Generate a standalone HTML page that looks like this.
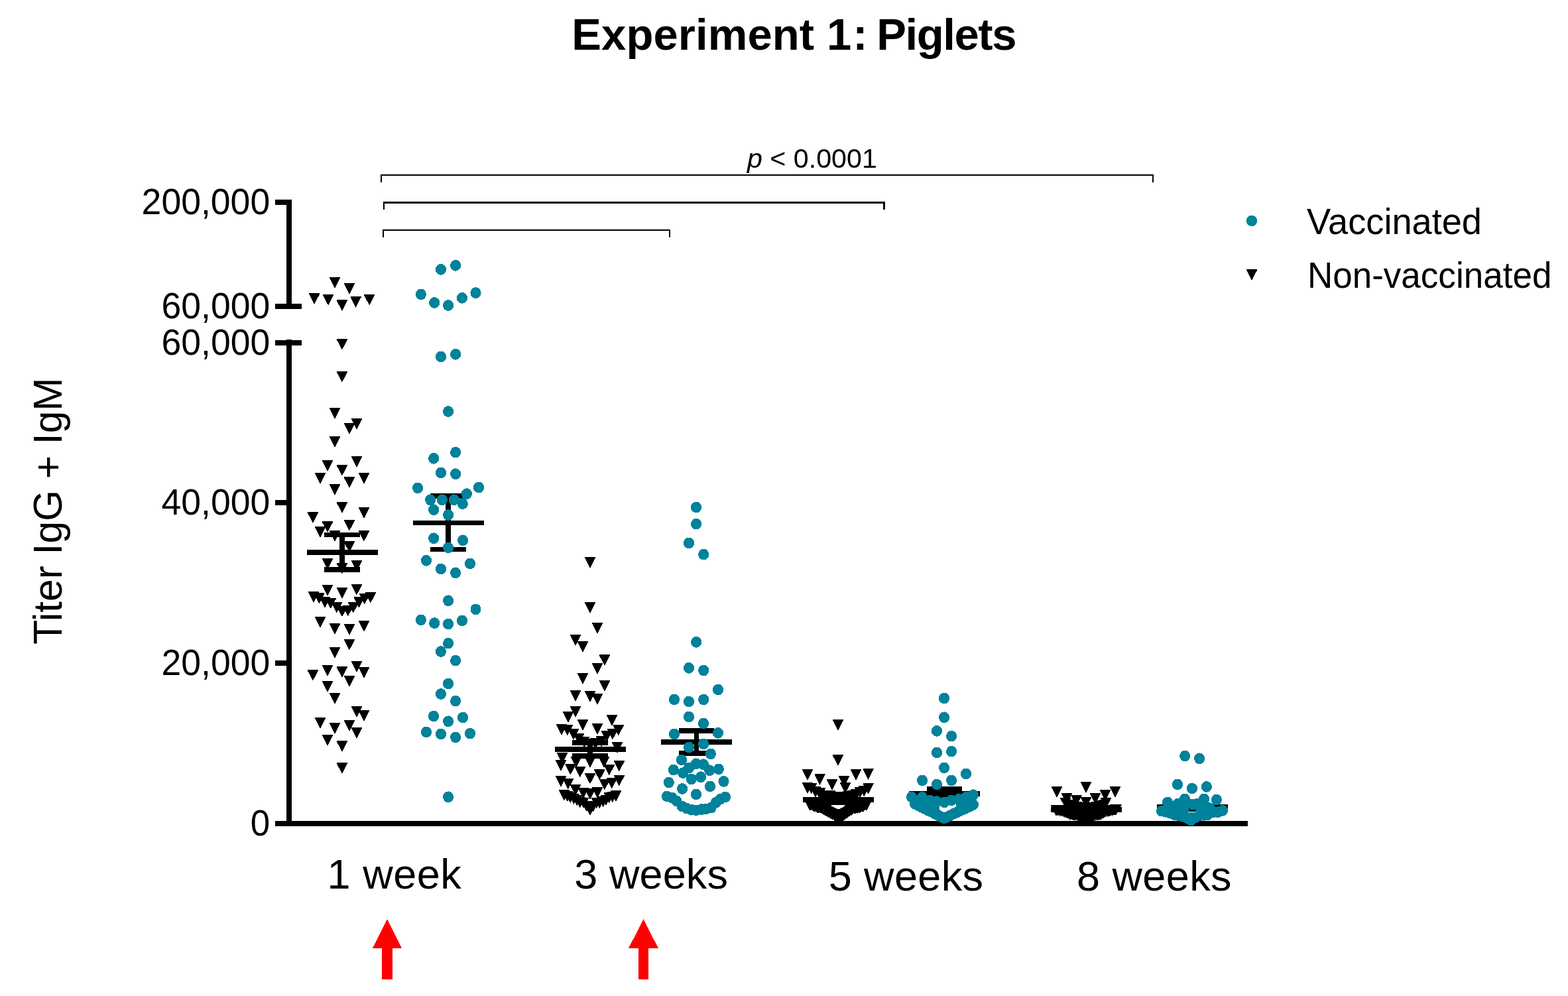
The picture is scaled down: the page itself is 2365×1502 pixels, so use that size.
<!DOCTYPE html>
<html lang="en"><head><meta charset="utf-8"><title>Experiment 1: Piglets</title>
<style>
html,body{margin:0;padding:0;background:#fff}
body{width:2365px;height:1502px;overflow:hidden}
svg{display:block}
text{font-family:"Liberation Sans",Arial,Helvetica,sans-serif;fill:#000}
.ax{fill:#000;shape-rendering:crispEdges}
.tri{fill:#000;shape-rendering:crispEdges}
.dot{fill:#00829b;shape-rendering:crispEdges}
.arrow{fill:#ff0000;shape-rendering:crispEdges}
.tick{font-size:55px;text-anchor:end}
.xl{font-size:63px}
.lg{font-size:55px}
</style></head><body>
<svg width="2365" height="1502" viewBox="0 0 2365 1502">
<rect width="2365" height="1502" fill="#fff"/>
<text id="title" y="75.4" font-size="67" font-weight="700"><tspan x="862.3" letter-spacing="0.10">Experiment </tspan><tspan x="1247.0" letter-spacing="2.00">1: </tspan><tspan x="1322.2" letter-spacing="-1.40">Piglets</tspan></text>
<text id="pval" x="1224.9" y="252.8" text-anchor="middle" font-size="41.2"><tspan font-style="italic">p</tspan> &lt; 0.0001</text>
<g class="ax" id="brackets">
<path d="M574 263H1740V275H1738V265H576V275H574Z"/>
<path d="M578 304H1335V316H1332V307H580V316H578Z"/>
<path d="M577 346H1011V358H1009V348H579V358H577Z"/>
</g>
<g class="ax" id="axes">
<rect x="432" y="301" width="8" height="165"/>
<rect x="415" y="301" width="25" height="8"/>
<rect x="415" y="458" width="40" height="8"/>
<rect x="432" y="512" width="8" height="734"/>
<rect x="415" y="513" width="40" height="8"/>
<rect x="415" y="754" width="20" height="8"/>
<rect x="415" y="996" width="20" height="8"/>
<rect x="415" y="1238" width="1467" height="8"/>
</g>
<text class="tick" x="407.2" y="322.7" textLength="193.6" lengthAdjust="spacingAndGlyphs">200,000</text>
<text class="tick" x="407.2" y="480.3" textLength="163.6" lengthAdjust="spacingAndGlyphs">60,000</text>
<text class="tick" x="407.2" y="535.4" textLength="163.6" lengthAdjust="spacingAndGlyphs">60,000</text>
<text class="tick" x="407.2" y="776.4" textLength="163.6" lengthAdjust="spacingAndGlyphs">40,000</text>
<text class="tick" x="407.2" y="1018.4" textLength="163.6" lengthAdjust="spacingAndGlyphs">20,000</text>
<text class="tick" x="407.2" y="1260.4" textLength="29.4" lengthAdjust="spacingAndGlyphs">0</text>
<text id="ylab" transform="translate(92.8 770.6) rotate(-90)" text-anchor="middle" font-size="61.2" textLength="402.3" lengthAdjust="spacingAndGlyphs">Titer IgG + IgM</text>
<ellipse class="dot" cx="1888" cy="333" rx="8.05" ry="8.4"/>
<polygon class="tri" points="1880,406.2 1896.1,406.2 1896.1,407.4 1888.05,422.8 1880,407.4"/>
<text class="lg" x="1971.0" y="353.1" textLength="264.0" lengthAdjust="spacingAndGlyphs">Vaccinated</text>
<text class="lg" x="1971.9" y="433.8" textLength="368.5" lengthAdjust="spacingAndGlyphs">Non-vaccinated</text>
<text class="xl" x="493.6" y="1339.6" letter-spacing="0.50">1 week</text>
<text class="xl" x="866.2" y="1340.2" letter-spacing="0.10">3 weeks</text>
<text class="xl" x="1249.8" y="1343.4" letter-spacing="0.35">5 weeks</text>
<text class="xl" x="1624.1" y="1343.4" letter-spacing="0.40">8 weeks</text>
<polygon class="arrow" points="584.0,1386 606.4,1430.3 592.1,1430.3 592.1,1476.7 575.9,1476.7 575.9,1430.3 561.6,1430.3"/>
<polygon class="arrow" points="970.5,1386 993.0,1430.3 978.0,1430.3 978.0,1476.7 963.2,1476.7 963.2,1430.3 948.0,1430.3"/>
<g class="ax" id="errorbars">
<rect x="462.8" y="829.1" width="107" height="7.8"/>
<rect x="489.4" y="802.5" width="53.8" height="7.8"/>
<rect x="489.4" y="854.7" width="53.8" height="7.8"/>
<rect x="512.4" y="806.4" width="7.7" height="52.2"/>
<rect x="622.8" y="784.6" width="107" height="7.8"/>
<rect x="649.4" y="744.1" width="53.8" height="7.8"/>
<rect x="649.4" y="824.6" width="53.8" height="7.8"/>
<rect x="672.4" y="748.0" width="7.7" height="80.5"/>
<rect x="836.8" y="1126.1" width="107" height="7.8"/>
<rect x="863.4" y="1116.1" width="53.8" height="7.8"/>
<rect x="863.4" y="1136.1" width="53.8" height="7.8"/>
<rect x="886.4" y="1120.0" width="7.7" height="20.0"/>
<rect x="996.9" y="1115.1" width="107" height="7.8"/>
<rect x="1023.5" y="1098.1" width="53.8" height="7.8"/>
<rect x="1023.5" y="1132.3" width="53.8" height="7.8"/>
<rect x="1046.6" y="1102.0" width="7.7" height="34.2"/>
<rect x="1211.0" y="1202.1" width="107" height="7.8"/>
<rect x="1237.6" y="1197.1" width="53.8" height="7.8"/>
<rect x="1237.6" y="1206.6" width="53.8" height="7.8"/>
<rect x="1260.7" y="1201.0" width="7.7" height="9.5"/>
<rect x="1371.0" y="1193.0" width="107" height="7.8"/>
<rect x="1397.6" y="1186.1" width="53.8" height="7.8"/>
<rect x="1397.6" y="1200.1" width="53.8" height="7.8"/>
<rect x="1420.7" y="1190.0" width="7.7" height="14.0"/>
<rect x="1585.0" y="1217.1" width="107" height="7.8"/>
<rect x="1611.6" y="1214.1" width="53.8" height="7.8"/>
<rect x="1611.6" y="1220.1" width="53.8" height="7.8"/>
<rect x="1634.7" y="1218.0" width="7.7" height="6.0"/>
<rect x="1745.0" y="1213.1" width="107" height="7.8"/>
<rect x="1771.6" y="1210.1" width="53.8" height="7.8"/>
<rect x="1771.6" y="1215.9" width="53.8" height="7.8"/>
<rect x="1794.7" y="1214.0" width="7.7" height="5.8"/>
</g>
<g class="tri" id="nv1">
<polygon points="496.9,418.1 513.0,418.1 513.0,419.3 505.0,434.7 496.9,419.3"/>
<polygon points="518.9,427.1 534.9,427.1 534.9,428.3 526.9,443.7 518.9,428.3"/>
<polygon points="466.1,442.1 482.2,442.1 482.2,443.3 474.1,458.7 466.1,443.3"/>
<polygon points="487.1,444.0 503.2,444.0 503.2,445.2 495.1,460.6 487.1,445.2"/>
<polygon points="507.8,452.2 523.9,452.2 523.9,453.4 515.9,468.8 507.8,453.4"/>
<polygon points="528.6,447.2 544.6,447.2 544.6,448.4 536.6,463.8 528.6,448.4"/>
<polygon points="549.2,444.0 565.2,444.0 565.2,445.2 557.2,460.6 549.2,445.2"/>
<polygon points="507.8,511.0 523.9,511.0 523.9,512.2 515.9,527.6 507.8,512.2"/>
<polygon points="507.8,560.0 523.9,560.0 523.9,561.2 515.9,576.6 507.8,561.2"/>
<polygon points="496.9,615.1 513.0,615.1 513.0,616.3 505.0,631.7 496.9,616.3"/>
<polygon points="530.0,630.9 546.0,630.9 546.0,632.1 538.0,647.5 530.0,632.1"/>
<polygon points="518.9,638.1 534.9,638.1 534.9,639.3 526.9,654.7 518.9,639.3"/>
<polygon points="496.9,658.1 513.0,658.1 513.0,659.3 505.0,674.7 496.9,659.3"/>
<polygon points="530.0,687.9 546.0,687.9 546.0,689.1 538.0,704.5 530.0,689.1"/>
<polygon points="485.9,694.1 502.1,694.1 502.1,695.3 494.0,710.7 485.9,695.3"/>
<polygon points="507.8,701.0 523.9,701.0 523.9,702.2 515.9,717.6 507.8,702.2"/>
<polygon points="474.9,713.1 491.1,713.1 491.1,714.3 483.0,729.7 474.9,714.3"/>
<polygon points="540.9,713.1 556.9,713.1 556.9,714.3 548.9,729.7 540.9,714.3"/>
<polygon points="518.9,719.2 534.9,719.2 534.9,720.4 526.9,735.8 518.9,720.4"/>
<polygon points="496.9,730.0 513.0,730.0 513.0,731.2 505.0,746.6 496.9,731.2"/>
<polygon points="507.8,757.1 523.9,757.1 523.9,758.3 515.9,773.7 507.8,758.3"/>
<polygon points="540.9,765.1 556.9,765.1 556.9,766.3 548.9,781.7 540.9,766.3"/>
<polygon points="463.8,772.1 479.9,772.1 479.9,773.3 471.9,788.7 463.8,773.3"/>
<polygon points="485.9,786.2 502.1,786.2 502.1,787.4 494.0,802.8 485.9,787.4"/>
<polygon points="518.9,784.0 534.9,784.0 534.9,785.2 526.9,800.6 518.9,785.2"/>
<polygon points="474.9,794.0 491.1,794.0 491.1,795.2 483.0,810.6 474.9,795.2"/>
<polygon points="540.9,800.0 556.9,800.0 556.9,801.2 548.9,816.6 540.9,801.2"/>
<polygon points="496.9,800.0 513.0,800.0 513.0,801.2 505.0,816.6 496.9,801.2"/>
<polygon points="518.9,816.4 534.9,816.4 534.9,817.6 526.9,833.0 518.9,817.6"/>
<polygon points="485.9,842.1 502.1,842.1 502.1,843.3 494.0,858.7 485.9,843.3"/>
<polygon points="530.0,845.0 546.0,845.0 546.0,846.2 538.0,861.6 530.0,846.2"/>
<polygon points="507.8,849.0 523.9,849.0 523.9,850.2 515.9,865.6 507.8,850.2"/>
<polygon points="485.9,882.0 502.1,882.0 502.1,883.2 494.0,898.6 485.9,883.2"/>
<polygon points="529.9,881.0 545.9,881.0 545.9,882.2 537.9,897.6 529.9,882.2"/>
<polygon points="507.9,886.0 524.0,886.0 524.0,887.2 516.0,902.6 507.9,887.2"/>
<polygon points="464.9,892.0 481.1,892.0 481.1,893.2 473.0,908.6 464.9,893.2"/>
<polygon points="473.3,894.0 489.4,894.0 489.4,895.2 481.4,910.6 473.3,895.2"/>
<polygon points="481.9,899.9 498.1,899.9 498.1,901.1 490.0,916.5 481.9,901.1"/>
<polygon points="490.8,901.6 506.9,901.6 506.9,902.8 498.9,918.2 490.8,902.8"/>
<polygon points="499.7,907.9 515.8,907.9 515.8,909.1 507.8,924.5 499.7,909.1"/>
<polygon points="507.9,913.8 524.0,913.8 524.0,915.0 516.0,930.4 507.9,915.0"/>
<polygon points="516.9,912.9 532.9,912.9 532.9,914.1 524.9,929.5 516.9,914.1"/>
<polygon points="524.9,907.9 540.9,907.9 540.9,909.1 532.9,924.5 524.9,909.1"/>
<polygon points="533.5,899.9 549.5,899.9 549.5,901.1 541.5,916.5 533.5,901.1"/>
<polygon points="541.9,894.9 557.9,894.9 557.9,896.1 549.9,911.5 541.9,896.1"/>
<polygon points="550.9,893.0 566.9,893.0 566.9,894.2 558.9,909.6 550.9,894.2"/>
<polygon points="474.9,930.0 491.1,930.0 491.1,931.2 483.0,946.6 474.9,931.2"/>
<polygon points="541.1,936.0 557.1,936.0 557.1,937.2 549.1,952.6 541.1,937.2"/>
<polygon points="497.1,940.2 513.1,940.2 513.1,941.4 505.1,956.8 497.1,941.4"/>
<polygon points="519.0,941.1 535.0,941.1 535.0,942.3 527.0,957.7 519.0,942.3"/>
<polygon points="518.9,964.0 534.9,964.0 534.9,965.2 526.9,980.6 518.9,965.2"/>
<polygon points="496.9,976.1 513.0,976.1 513.0,977.3 505.0,992.7 496.9,977.3"/>
<polygon points="530.0,997.0 546.0,997.0 546.0,998.2 538.0,1013.6 530.0,998.2"/>
<polygon points="485.9,1003.1 502.1,1003.1 502.1,1004.3 494.0,1019.7 485.9,1004.3"/>
<polygon points="507.8,1005.2 523.9,1005.2 523.9,1006.4 515.9,1021.8 507.8,1006.4"/>
<polygon points="540.9,1006.1 556.9,1006.1 556.9,1007.3 548.9,1022.7 540.9,1007.3"/>
<polygon points="463.8,1010.0 479.9,1010.0 479.9,1011.2 471.9,1026.6 463.8,1011.2"/>
<polygon points="518.9,1019.1 534.9,1019.1 534.9,1020.3 526.9,1035.7 518.9,1020.3"/>
<polygon points="485.9,1027.1 502.1,1027.1 502.1,1028.3 494.0,1043.7 485.9,1028.3"/>
<polygon points="496.9,1045.1 513.0,1045.1 513.0,1046.3 505.0,1061.7 496.9,1046.3"/>
<polygon points="530.0,1065.1 546.0,1065.1 546.0,1066.3 538.0,1081.7 530.0,1066.3"/>
<polygon points="540.9,1071.1 556.9,1071.1 556.9,1072.3 548.9,1087.7 540.9,1072.3"/>
<polygon points="474.9,1082.0 491.1,1082.0 491.1,1083.2 483.0,1098.6 474.9,1083.2"/>
<polygon points="518.9,1086.1 534.9,1086.1 534.9,1087.3 526.9,1102.7 518.9,1087.3"/>
<polygon points="496.9,1090.0 513.0,1090.0 513.0,1091.2 505.0,1106.6 496.9,1091.2"/>
<polygon points="530.0,1096.9 546.0,1096.9 546.0,1098.1 538.0,1113.5 530.0,1098.1"/>
<polygon points="485.9,1108.0 502.1,1108.0 502.1,1109.2 494.0,1124.6 485.9,1109.2"/>
<polygon points="507.8,1117.1 523.9,1117.1 523.9,1118.3 515.9,1133.7 507.8,1118.3"/>
<polygon points="507.8,1150.2 523.9,1150.2 523.9,1151.4 515.9,1166.8 507.8,1151.4"/>
</g>
<g class="dot" id="v1">
<ellipse cx="665.0" cy="406.4" rx="8.05" ry="8.4"/>
<ellipse cx="687.1" cy="400.3" rx="8.05" ry="8.4"/>
<ellipse cx="634.9" cy="443.9" rx="8.05" ry="8.4"/>
<ellipse cx="655.2" cy="456.5" rx="8.05" ry="8.4"/>
<ellipse cx="676.1" cy="460.5" rx="8.05" ry="8.4"/>
<ellipse cx="697.0" cy="449.4" rx="8.05" ry="8.4"/>
<ellipse cx="717.5" cy="441.6" rx="8.05" ry="8.4"/>
<ellipse cx="665.0" cy="537.9" rx="8.05" ry="8.4"/>
<ellipse cx="687.1" cy="534.3" rx="8.05" ry="8.4"/>
<ellipse cx="676.1" cy="620.5" rx="8.05" ry="8.4"/>
<ellipse cx="687.1" cy="682.1" rx="8.05" ry="8.4"/>
<ellipse cx="654.1" cy="691.3" rx="8.05" ry="8.4"/>
<ellipse cx="665.0" cy="712.9" rx="8.05" ry="8.4"/>
<ellipse cx="687.1" cy="714.7" rx="8.05" ry="8.4"/>
<ellipse cx="630.1" cy="735.9" rx="8.05" ry="8.4"/>
<ellipse cx="722.1" cy="735.0" rx="8.05" ry="8.4"/>
<ellipse cx="703.9" cy="744.7" rx="8.05" ry="8.4"/>
<ellipse cx="649.1" cy="753.8" rx="8.05" ry="8.4"/>
<ellipse cx="666.9" cy="753.8" rx="8.05" ry="8.4"/>
<ellipse cx="684.9" cy="753.8" rx="8.05" ry="8.4"/>
<ellipse cx="697.8" cy="759.6" rx="8.05" ry="8.4"/>
<ellipse cx="654.1" cy="768.7" rx="8.05" ry="8.4"/>
<ellipse cx="676.1" cy="776.5" rx="8.05" ry="8.4"/>
<ellipse cx="654.1" cy="811.7" rx="8.05" ry="8.4"/>
<ellipse cx="698.1" cy="814.8" rx="8.05" ry="8.4"/>
<ellipse cx="676.1" cy="825.9" rx="8.05" ry="8.4"/>
<ellipse cx="643.0" cy="845.3" rx="8.05" ry="8.4"/>
<ellipse cx="709.0" cy="849.9" rx="8.05" ry="8.4"/>
<ellipse cx="665.0" cy="858.0" rx="8.05" ry="8.4"/>
<ellipse cx="687.1" cy="863.8" rx="8.05" ry="8.4"/>
<ellipse cx="676.1" cy="905.8" rx="8.05" ry="8.4"/>
<ellipse cx="717.5" cy="918.9" rx="8.05" ry="8.4"/>
<ellipse cx="634.9" cy="934.9" rx="8.05" ry="8.4"/>
<ellipse cx="697.0" cy="935.9" rx="8.05" ry="8.4"/>
<ellipse cx="655.2" cy="939.6" rx="8.05" ry="8.4"/>
<ellipse cx="676.1" cy="941.0" rx="8.05" ry="8.4"/>
<ellipse cx="676.1" cy="970.1" rx="8.05" ry="8.4"/>
<ellipse cx="665.0" cy="982.5" rx="8.05" ry="8.4"/>
<ellipse cx="687.1" cy="996.1" rx="8.05" ry="8.4"/>
<ellipse cx="676.1" cy="1031.0" rx="8.05" ry="8.4"/>
<ellipse cx="665.0" cy="1046.5" rx="8.05" ry="8.4"/>
<ellipse cx="687.1" cy="1057.1" rx="8.05" ry="8.4"/>
<ellipse cx="654.1" cy="1080.0" rx="8.05" ry="8.4"/>
<ellipse cx="698.1" cy="1082.0" rx="8.05" ry="8.4"/>
<ellipse cx="676.1" cy="1087.8" rx="8.05" ry="8.4"/>
<ellipse cx="643.0" cy="1104.0" rx="8.05" ry="8.4"/>
<ellipse cx="709.0" cy="1106.1" rx="8.05" ry="8.4"/>
<ellipse cx="665.0" cy="1107.0" rx="8.05" ry="8.4"/>
<ellipse cx="687.1" cy="1111.9" rx="8.05" ry="8.4"/>
<ellipse cx="676.1" cy="1201.8" rx="8.05" ry="8.4"/>
</g>
<g class="tri" id="nv3">
<polygon points="882.0,840.2 898.0,840.2 898.0,841.4 890.0,856.8 882.0,841.4"/>
<polygon points="882.0,908.1 898.0,908.1 898.0,909.3 890.0,924.7 882.0,909.3"/>
<polygon points="892.9,939.1 908.9,939.1 908.9,940.3 900.9,955.7 892.9,940.3"/>
<polygon points="859.9,957.1 875.9,957.1 875.9,958.3 867.9,973.7 859.9,958.3"/>
<polygon points="871.0,967.1 887.0,967.1 887.0,968.3 879.0,983.7 871.0,968.3"/>
<polygon points="903.9,987.2 919.9,987.2 919.9,988.4 911.9,1003.8 903.9,988.4"/>
<polygon points="892.9,1000.1 908.9,1000.1 908.9,1001.3 900.9,1016.7 892.9,1001.3"/>
<polygon points="871.0,1015.2 887.0,1015.2 887.0,1016.4 879.0,1031.8 871.0,1016.4"/>
<polygon points="903.9,1026.1 919.9,1026.1 919.9,1027.3 911.9,1042.7 903.9,1027.3"/>
<polygon points="859.9,1041.1 875.9,1041.1 875.9,1042.3 867.9,1057.7 859.9,1042.3"/>
<polygon points="882.0,1042.1 898.0,1042.1 898.0,1043.3 890.0,1058.7 882.0,1043.3"/>
<polygon points="892.9,1046.2 908.9,1046.2 908.9,1047.4 900.9,1062.8 892.9,1047.4"/>
<polygon points="859.9,1065.1 875.9,1065.1 875.9,1066.3 867.9,1081.7 859.9,1066.3"/>
<polygon points="849.0,1073.1 865.0,1073.1 865.0,1074.3 857.0,1089.7 849.0,1074.3"/>
<polygon points="915.0,1078.0 931.0,1078.0 931.0,1079.2 923.0,1094.6 915.0,1079.2"/>
<polygon points="871.0,1085.0 887.0,1085.0 887.0,1086.2 879.0,1101.6 871.0,1086.2"/>
<polygon points="893.0,1091.1 909.0,1091.1 909.0,1092.3 901.0,1107.7 893.0,1092.3"/>
<polygon points="839.0,1092.0 855.0,1092.0 855.0,1093.2 847.0,1108.6 839.0,1093.2"/>
<polygon points="847.9,1092.9 863.9,1092.9 863.9,1094.1 855.9,1109.5 847.9,1094.1"/>
<polygon points="924.7,1093.0 940.8,1093.0 940.8,1094.2 932.7,1109.6 924.7,1094.2"/>
<polygon points="857.0,1099.0 873.0,1099.0 873.0,1100.2 865.0,1115.6 857.0,1100.2"/>
<polygon points="915.9,1099.0 931.9,1099.0 931.9,1100.2 923.9,1115.6 915.9,1100.2"/>
<polygon points="907.2,1102.1 923.2,1102.1 923.2,1103.3 915.2,1118.7 907.2,1103.3"/>
<polygon points="865.1,1106.0 881.1,1106.0 881.1,1107.1 873.1,1122.5 865.1,1107.1"/>
<polygon points="899.1,1110.0 915.1,1110.0 915.1,1111.2 907.1,1126.6 899.1,1111.2"/>
<polygon points="873.2,1110.9 889.2,1110.9 889.2,1112.1 881.2,1127.5 873.2,1112.1"/>
<polygon points="890.0,1113.0 906.0,1113.0 906.0,1114.1 898.0,1129.5 890.0,1114.1"/>
<polygon points="882.0,1114.0 898.0,1114.0 898.0,1115.2 890.0,1130.6 882.0,1115.2"/>
<polygon points="923.0,1119.0 939.0,1119.0 939.0,1120.2 931.0,1135.6 923.0,1120.2"/>
<polygon points="840.0,1135.1 856.0,1135.1 856.0,1136.3 848.0,1151.7 840.0,1136.3"/>
<polygon points="861.1,1141.0 877.1,1141.0 877.1,1142.2 869.1,1157.6 861.1,1142.2"/>
<polygon points="882.0,1141.0 898.0,1141.0 898.0,1142.2 890.0,1157.6 882.0,1142.2"/>
<polygon points="903.0,1141.0 919.0,1141.0 919.0,1142.2 911.0,1157.6 903.0,1142.2"/>
<polygon points="838.0,1146.0 854.0,1146.0 854.0,1147.2 846.0,1162.6 838.0,1147.2"/>
<polygon points="925.8,1147.0 941.8,1147.0 941.8,1148.1 933.8,1163.5 925.8,1148.1"/>
<polygon points="852.4,1152.0 868.4,1152.0 868.4,1153.2 860.4,1168.6 852.4,1153.2"/>
<polygon points="910.8,1153.0 926.8,1153.0 926.8,1154.2 918.8,1169.6 910.8,1154.2"/>
<polygon points="866.9,1155.9 882.9,1155.9 882.9,1157.1 874.9,1172.5 866.9,1157.1"/>
<polygon points="896.2,1160.1 912.3,1160.1 912.3,1161.3 904.3,1176.7 896.2,1161.3"/>
<polygon points="882.0,1165.8 898.0,1165.8 898.0,1167.0 890.0,1182.4 882.0,1167.0"/>
<polygon points="838.0,1170.0 854.0,1170.0 854.0,1171.2 846.0,1186.6 838.0,1171.2"/>
<polygon points="925.8,1168.9 941.8,1168.9 941.8,1170.1 933.8,1185.5 925.8,1170.1"/>
<polygon points="914.8,1172.9 930.8,1172.9 930.8,1174.1 922.8,1189.5 914.8,1174.1"/>
<polygon points="848.9,1173.9 864.9,1173.9 864.9,1175.1 856.9,1190.5 848.9,1175.1"/>
<polygon points="903.9,1174.8 919.9,1174.8 919.9,1176.0 911.9,1191.4 903.9,1176.0"/>
<polygon points="860.0,1182.9 876.1,1182.9 876.1,1184.1 868.0,1199.5 860.0,1184.1"/>
<polygon points="893.0,1187.0 909.0,1187.0 909.0,1188.2 901.0,1203.6 893.0,1188.2"/>
<polygon points="871.7,1187.7 887.8,1187.7 887.8,1188.9 879.7,1204.3 871.7,1188.9"/>
<polygon points="882.0,1189.0 898.0,1189.0 898.0,1190.2 890.0,1205.6 882.0,1190.2"/>
<polygon points="842.9,1190.8 858.9,1190.8 858.9,1192.0 850.9,1207.4 842.9,1192.0"/>
<polygon points="847.9,1192.6 863.9,1192.6 863.9,1193.8 855.9,1209.2 847.9,1193.8"/>
<polygon points="852.4,1194.6 868.4,1194.6 868.4,1195.8 860.4,1211.2 852.4,1195.8"/>
<polygon points="857.5,1196.6 873.5,1196.6 873.5,1197.8 865.5,1213.2 857.5,1197.8"/>
<polygon points="862.2,1198.6 878.3,1198.6 878.3,1199.8 870.3,1215.2 862.2,1199.8"/>
<polygon points="866.9,1201.7 882.9,1201.7 882.9,1202.9 874.9,1218.3 866.9,1202.9"/>
<polygon points="872.0,1202.7 888.0,1202.7 888.0,1203.9 880.0,1219.3 872.0,1203.9"/>
<polygon points="882.0,1212.9 898.0,1212.9 898.0,1214.0 890.0,1229.5 882.0,1214.0"/>
<polygon points="877.0,1207.8 893.0,1207.8 893.0,1209.0 885.0,1224.4 877.0,1209.0"/>
<polygon points="886.9,1207.8 902.9,1207.8 902.9,1209.0 894.9,1224.4 886.9,1209.0"/>
<polygon points="891.8,1202.7 907.8,1202.7 907.8,1203.9 899.8,1219.3 891.8,1203.9"/>
<polygon points="896.2,1202.7 912.3,1202.7 912.3,1203.9 904.3,1219.3 896.2,1203.9"/>
<polygon points="901.9,1200.7 917.9,1200.7 917.9,1201.9 909.9,1217.3 901.9,1201.9"/>
<polygon points="906.0,1198.6 922.0,1198.6 922.0,1199.8 914.0,1215.2 906.0,1199.8"/>
<polygon points="910.8,1194.6 926.8,1194.6 926.8,1195.8 918.8,1211.2 910.8,1195.8"/>
<polygon points="915.9,1193.8 931.9,1193.8 931.9,1195.0 923.9,1210.4 915.9,1195.0"/>
<polygon points="920.9,1192.2 936.9,1192.2 936.9,1193.3 928.9,1208.8 920.9,1193.3"/>
</g>
<g class="dot" id="v3">
<ellipse cx="1050.1" cy="765.0" rx="8.05" ry="8.4"/>
<ellipse cx="1050.1" cy="790.1" rx="8.05" ry="8.4"/>
<ellipse cx="1039.0" cy="818.9" rx="8.05" ry="8.4"/>
<ellipse cx="1061.2" cy="836.1" rx="8.05" ry="8.4"/>
<ellipse cx="1050.1" cy="968.3" rx="8.05" ry="8.4"/>
<ellipse cx="1039.0" cy="1007.3" rx="8.05" ry="8.4"/>
<ellipse cx="1061.2" cy="1010.9" rx="8.05" ry="8.4"/>
<ellipse cx="1083.1" cy="1040.0" rx="8.05" ry="8.4"/>
<ellipse cx="1017.0" cy="1054.9" rx="8.05" ry="8.4"/>
<ellipse cx="1039.0" cy="1058.0" rx="8.05" ry="8.4"/>
<ellipse cx="1061.2" cy="1054.9" rx="8.05" ry="8.4"/>
<ellipse cx="1039.0" cy="1081.0" rx="8.05" ry="8.4"/>
<ellipse cx="1061.0" cy="1090.9" rx="8.05" ry="8.4"/>
<ellipse cx="1017.0" cy="1106.9" rx="8.05" ry="8.4"/>
<ellipse cx="1083.0" cy="1105.4" rx="8.05" ry="8.4"/>
<ellipse cx="1061.0" cy="1121.9" rx="8.05" ry="8.4"/>
<ellipse cx="1039.1" cy="1127.0" rx="8.05" ry="8.4"/>
<ellipse cx="1071.9" cy="1136.9" rx="8.05" ry="8.4"/>
<ellipse cx="1028.0" cy="1146.0" rx="8.05" ry="8.4"/>
<ellipse cx="1049.9" cy="1151.8" rx="8.05" ry="8.4"/>
<ellipse cx="1061.0" cy="1152.8" rx="8.05" ry="8.4"/>
<ellipse cx="1039.0" cy="1158.2" rx="8.05" ry="8.4"/>
<ellipse cx="1015.9" cy="1161.0" rx="8.05" ry="8.4"/>
<ellipse cx="1083.9" cy="1159.9" rx="8.05" ry="8.4"/>
<ellipse cx="1070.2" cy="1161.7" rx="8.05" ry="8.4"/>
<ellipse cx="1030.1" cy="1165.6" rx="8.05" ry="8.4"/>
<ellipse cx="1057.0" cy="1171.8" rx="8.05" ry="8.4"/>
<ellipse cx="1042.8" cy="1174.9" rx="8.05" ry="8.4"/>
<ellipse cx="1008.8" cy="1179.9" rx="8.05" ry="8.4"/>
<ellipse cx="1091.5" cy="1178.4" rx="8.05" ry="8.4"/>
<ellipse cx="1029.1" cy="1189.5" rx="8.05" ry="8.4"/>
<ellipse cx="1071.0" cy="1185.9" rx="8.05" ry="8.4"/>
<ellipse cx="1050.0" cy="1197.9" rx="8.05" ry="8.4"/>
<ellipse cx="1006.0" cy="1201.0" rx="8.05" ry="8.4"/>
<ellipse cx="1013.8" cy="1203.2" rx="8.05" ry="8.4"/>
<ellipse cx="1020.4" cy="1207.8" rx="8.05" ry="8.4"/>
<ellipse cx="1028.6" cy="1215.9" rx="8.05" ry="8.4"/>
<ellipse cx="1035.7" cy="1219.1" rx="8.05" ry="8.4"/>
<ellipse cx="1042.8" cy="1221.2" rx="8.05" ry="8.4"/>
<ellipse cx="1050.0" cy="1222.0" rx="8.05" ry="8.4"/>
<ellipse cx="1058.0" cy="1220.5" rx="8.05" ry="8.4"/>
<ellipse cx="1065.1" cy="1219.9" rx="8.05" ry="8.4"/>
<ellipse cx="1072.7" cy="1218.0" rx="8.05" ry="8.4"/>
<ellipse cx="1079.8" cy="1210.4" rx="8.05" ry="8.4"/>
<ellipse cx="1086.4" cy="1205.2" rx="8.05" ry="8.4"/>
<ellipse cx="1094.0" cy="1202.0" rx="8.05" ry="8.4"/>
</g>
<g class="tri" id="nv5">
<polygon points="1255.9,1085.1 1272.0,1085.1 1272.0,1086.3 1263.9,1101.7 1255.9,1086.3"/>
<polygon points="1255.9,1138.2 1272.0,1138.2 1272.0,1139.4 1263.9,1154.8 1255.9,1139.4"/>
<polygon points="1209.9,1160.0 1226.0,1160.0 1226.0,1161.2 1218.0,1176.6 1209.9,1161.2"/>
<polygon points="1301.5,1159.0 1317.5,1159.0 1317.5,1160.2 1309.5,1175.6 1301.5,1160.2"/>
<polygon points="1283.0,1160.0 1299.0,1160.0 1299.0,1161.2 1291.0,1176.6 1283.0,1161.2"/>
<polygon points="1228.5,1167.0 1244.5,1167.0 1244.5,1168.2 1236.5,1183.6 1228.5,1168.2"/>
<polygon points="1265.0,1170.0 1281.0,1170.0 1281.0,1171.2 1273.0,1186.6 1265.0,1171.2"/>
<polygon points="1247.0,1175.0 1263.0,1175.0 1263.0,1176.2 1255.0,1191.6 1247.0,1176.2"/>
<polygon points="1209.9,1180.1 1226.0,1180.1 1226.0,1181.3 1218.0,1196.7 1209.9,1181.3"/>
<polygon points="1301.5,1181.0 1317.5,1181.0 1317.5,1182.1 1309.5,1197.5 1301.5,1182.1"/>
<polygon points="1267.0,1180.1 1283.0,1180.1 1283.0,1181.3 1275.0,1196.7 1267.0,1181.3"/>
<polygon points="1215.9,1181.0 1232.0,1181.0 1232.0,1182.1 1223.9,1197.5 1215.9,1182.1"/>
<polygon points="1222.0,1186.0 1238.0,1186.0 1238.0,1187.2 1230.0,1202.6 1222.0,1187.2"/>
<polygon points="1229.0,1188.0 1245.1,1188.0 1245.1,1189.1 1237.1,1204.5 1229.0,1189.1"/>
<polygon points="1236.5,1191.9 1252.6,1191.9 1252.6,1193.1 1244.6,1208.5 1236.5,1193.1"/>
<polygon points="1244.0,1191.9 1260.1,1191.9 1260.1,1193.1 1252.1,1208.5 1244.0,1193.1"/>
<polygon points="1251.8,1193.9 1267.8,1193.9 1267.8,1195.1 1259.8,1210.5 1251.8,1195.1"/>
<polygon points="1257.0,1194.8 1273.0,1194.8 1273.0,1196.0 1265.0,1211.4 1257.0,1196.0"/>
<polygon points="1295.0,1184.9 1311.1,1184.9 1311.1,1186.1 1303.1,1201.5 1295.0,1186.1"/>
<polygon points="1289.2,1186.9 1305.3,1186.9 1305.3,1188.1 1297.2,1203.5 1289.2,1188.1"/>
<polygon points="1283.2,1190.0 1299.2,1190.0 1299.2,1191.2 1291.2,1206.6 1283.2,1191.2"/>
<polygon points="1278.0,1191.9 1294.1,1191.9 1294.1,1193.1 1286.1,1208.5 1278.0,1193.1"/>
<polygon points="1271.0,1192.9 1287.0,1192.9 1287.0,1194.1 1279.0,1209.5 1271.0,1194.1"/>
<polygon points="1264.9,1193.9 1281.0,1193.9 1281.0,1195.1 1272.9,1210.5 1264.9,1195.1"/>
<polygon points="1232.0,1195.9 1248.0,1195.9 1248.0,1197.1 1240.0,1212.5 1232.0,1197.1"/>
<polygon points="1239.0,1196.4 1255.0,1196.4 1255.0,1197.6 1247.0,1213.0 1239.0,1197.6"/>
<polygon points="1246.0,1196.9 1262.0,1196.9 1262.0,1198.1 1254.0,1213.5 1246.0,1198.1"/>
<polygon points="1253.0,1197.4 1269.0,1197.4 1269.0,1198.6 1261.0,1214.0 1253.0,1198.6"/>
<polygon points="1260.0,1197.4 1276.0,1197.4 1276.0,1198.6 1268.0,1214.0 1260.0,1198.6"/>
<polygon points="1267.0,1196.9 1283.0,1196.9 1283.0,1198.1 1275.0,1213.5 1267.0,1198.1"/>
<polygon points="1274.0,1196.4 1290.0,1196.4 1290.0,1197.6 1282.0,1213.0 1274.0,1197.6"/>
<polygon points="1281.0,1195.9 1297.0,1195.9 1297.0,1197.1 1289.0,1212.5 1281.0,1197.1"/>
<polygon points="1214.0,1205.9 1230.0,1205.9 1230.0,1207.1 1222.0,1222.5 1214.0,1207.1"/>
<polygon points="1220.0,1207.9 1236.0,1207.9 1236.0,1209.1 1228.0,1224.5 1220.0,1209.1"/>
<polygon points="1226.0,1209.9 1242.0,1209.9 1242.0,1211.1 1234.0,1226.5 1226.0,1211.1"/>
<polygon points="1232.0,1210.9 1248.0,1210.9 1248.0,1212.1 1240.0,1227.5 1232.0,1212.1"/>
<polygon points="1238.0,1212.4 1254.0,1212.4 1254.0,1213.6 1246.0,1229.0 1238.0,1213.6"/>
<polygon points="1276.0,1212.4 1292.0,1212.4 1292.0,1213.6 1284.0,1229.0 1276.0,1213.6"/>
<polygon points="1282.0,1210.9 1298.0,1210.9 1298.0,1212.1 1290.0,1227.5 1282.0,1212.1"/>
<polygon points="1288.0,1209.9 1304.0,1209.9 1304.0,1211.1 1296.0,1226.5 1288.0,1211.1"/>
<polygon points="1294.0,1207.9 1310.0,1207.9 1310.0,1209.1 1302.0,1224.5 1294.0,1209.1"/>
<polygon points="1299.0,1205.9 1315.0,1205.9 1315.0,1207.1 1307.0,1222.5 1299.0,1207.1"/>
<polygon points="1212.7,1204.3 1228.8,1204.3 1228.8,1205.5 1220.7,1220.9 1212.7,1205.5"/>
<polygon points="1214.8,1205.3 1230.9,1205.3 1230.9,1206.5 1222.8,1221.9 1214.8,1206.5"/>
<polygon points="1216.9,1206.4 1233.0,1206.4 1233.0,1207.6 1225.0,1223.0 1216.9,1207.6"/>
<polygon points="1219.0,1207.4 1235.1,1207.4 1235.1,1208.6 1227.1,1224.0 1219.0,1208.6"/>
<polygon points="1220.9,1208.0 1237.0,1208.0 1237.0,1209.2 1228.9,1224.6 1220.9,1209.2"/>
<polygon points="1222.7,1208.7 1238.8,1208.7 1238.8,1209.8 1230.8,1225.2 1222.7,1209.8"/>
<polygon points="1224.5,1209.3 1240.6,1209.3 1240.6,1210.5 1232.6,1225.9 1224.5,1210.5"/>
<polygon points="1226.4,1209.9 1242.5,1209.9 1242.5,1211.1 1234.4,1226.5 1226.4,1211.1"/>
<polygon points="1228.2,1210.2 1244.3,1210.2 1244.3,1211.4 1236.3,1226.8 1228.2,1211.4"/>
<polygon points="1230.1,1210.6 1246.2,1210.6 1246.2,1211.8 1238.1,1227.2 1230.1,1211.8"/>
<polygon points="1232.0,1210.9 1248.0,1210.9 1248.0,1212.1 1240.0,1227.5 1232.0,1212.1"/>
<polygon points="1234.2,1212.5 1250.3,1212.5 1250.3,1213.6 1242.3,1229.0 1234.2,1213.6"/>
<polygon points="1236.5,1214.0 1252.6,1214.0 1252.6,1215.2 1244.6,1230.6 1236.5,1215.2"/>
<polygon points="1238.3,1215.0 1254.4,1215.0 1254.4,1216.2 1246.4,1231.6 1238.3,1216.2"/>
<polygon points="1240.1,1216.0 1256.2,1216.0 1256.2,1217.2 1248.2,1232.6 1240.1,1217.2"/>
<polygon points="1241.9,1217.0 1258.0,1217.0 1258.0,1218.2 1249.9,1233.6 1241.9,1218.2"/>
<polygon points="1243.7,1218.0 1259.8,1218.0 1259.8,1219.2 1251.7,1234.6 1243.7,1219.2"/>
<polygon points="1245.4,1218.9 1261.5,1218.9 1261.5,1220.1 1253.5,1235.5 1245.4,1220.1"/>
<polygon points="1247.2,1219.9 1263.3,1219.9 1263.3,1221.1 1255.2,1236.5 1247.2,1221.1"/>
<polygon points="1249.0,1220.8 1265.0,1220.8 1265.0,1222.0 1257.0,1237.4 1249.0,1222.0"/>
<polygon points="1251.0,1222.6 1267.0,1222.6 1267.0,1223.8 1259.0,1239.2 1251.0,1223.8"/>
<polygon points="1253.0,1224.4 1269.0,1224.4 1269.0,1225.6 1261.0,1241.0 1253.0,1225.6"/>
<polygon points="1255.0,1226.5 1271.0,1226.5 1271.0,1227.7 1263.0,1243.1 1255.0,1227.7"/>
<polygon points="1257.0,1228.6 1273.0,1228.6 1273.0,1229.8 1265.0,1245.2 1257.0,1229.8"/>
<polygon points="1259.0,1226.5 1275.0,1226.5 1275.0,1227.7 1267.0,1243.1 1259.0,1227.7"/>
<polygon points="1261.0,1224.4 1277.0,1224.4 1277.0,1225.6 1269.0,1241.0 1261.0,1225.6"/>
<polygon points="1263.1,1222.6 1279.2,1222.6 1279.2,1223.8 1271.2,1239.2 1263.1,1223.8"/>
<polygon points="1265.2,1220.8 1281.3,1220.8 1281.3,1222.0 1273.3,1237.4 1265.2,1222.0"/>
<polygon points="1267.1,1219.4 1283.2,1219.4 1283.2,1220.6 1275.2,1236.0 1267.1,1220.6"/>
<polygon points="1269.0,1218.0 1285.1,1218.0 1285.1,1219.2 1277.1,1234.6 1269.0,1219.2"/>
<polygon points="1270.9,1216.7 1287.0,1216.7 1287.0,1217.9 1278.9,1233.3 1270.9,1217.9"/>
<polygon points="1272.7,1215.3 1288.8,1215.3 1288.8,1216.5 1280.8,1231.9 1272.7,1216.5"/>
<polygon points="1274.5,1214.0 1290.6,1214.0 1290.6,1215.2 1282.6,1230.6 1274.5,1215.2"/>
<polygon points="1276.4,1213.0 1292.5,1213.0 1292.5,1214.2 1284.5,1229.6 1276.4,1214.2"/>
<polygon points="1278.3,1211.9 1294.4,1211.9 1294.4,1213.1 1286.3,1228.5 1278.3,1213.1"/>
<polygon points="1280.2,1210.9 1296.2,1210.9 1296.2,1212.1 1288.2,1227.5 1280.2,1212.1"/>
<polygon points="1281.9,1210.7 1298.0,1210.7 1298.0,1211.8 1290.0,1227.2 1281.9,1211.8"/>
<polygon points="1283.7,1210.4 1299.8,1210.4 1299.8,1211.6 1291.8,1227.0 1283.7,1211.6"/>
<polygon points="1285.5,1210.2 1301.6,1210.2 1301.6,1211.3 1293.5,1226.8 1285.5,1211.3"/>
<polygon points="1287.2,1209.9 1303.3,1209.9 1303.3,1211.1 1295.3,1226.5 1287.2,1211.1"/>
<polygon points="1289.0,1209.2 1305.0,1209.2 1305.0,1210.4 1297.0,1225.8 1289.0,1210.4"/>
<polygon points="1290.7,1208.6 1306.8,1208.6 1306.8,1209.8 1298.7,1225.2 1290.7,1209.8"/>
<polygon points="1292.4,1207.9 1308.5,1207.9 1308.5,1209.1 1300.4,1224.5 1292.4,1209.1"/>
<polygon points="1294.6,1206.8 1310.7,1206.8 1310.7,1208.0 1302.6,1223.4 1294.6,1208.0"/>
<polygon points="1296.8,1205.7 1312.8,1205.7 1312.8,1206.9 1304.8,1222.3 1296.8,1206.9"/>
<polygon points="1299.0,1204.6 1315.0,1204.6 1315.0,1205.8 1307.0,1221.2 1299.0,1205.8"/>
<polygon points="1246.2,1218.6 1262.3,1218.6 1262.3,1219.8 1254.3,1235.2 1246.2,1219.8"/>
<polygon points="1267.9,1218.6 1284.0,1218.6 1284.0,1219.8 1275.9,1235.2 1267.9,1219.8"/>
<polygon points="1257.0,1219.6 1273.0,1219.6 1273.0,1220.8 1265.0,1236.2 1257.0,1220.8"/>
</g>
<g class="dot" id="v5">
<ellipse cx="1424.1" cy="1053.0" rx="8.05" ry="8.4"/>
<ellipse cx="1424.1" cy="1081.8" rx="8.05" ry="8.4"/>
<ellipse cx="1413.0" cy="1102.4" rx="8.05" ry="8.4"/>
<ellipse cx="1435.1" cy="1110.1" rx="8.05" ry="8.4"/>
<ellipse cx="1413.0" cy="1134.9" rx="8.05" ry="8.4"/>
<ellipse cx="1435.1" cy="1133.1" rx="8.05" ry="8.4"/>
<ellipse cx="1424.1" cy="1157.9" rx="8.05" ry="8.4"/>
<ellipse cx="1457.0" cy="1166.9" rx="8.05" ry="8.4"/>
<ellipse cx="1391.1" cy="1176.9" rx="8.05" ry="8.4"/>
<ellipse cx="1435.1" cy="1176.9" rx="8.05" ry="8.4"/>
<ellipse cx="1413.0" cy="1183.0" rx="8.05" ry="8.4"/>
<ellipse cx="1375.0" cy="1202.0" rx="8.05" ry="8.4"/>
<ellipse cx="1390.9" cy="1202.1" rx="8.05" ry="8.4"/>
<ellipse cx="1402.6" cy="1207.1" rx="8.05" ry="8.4"/>
<ellipse cx="1412.5" cy="1208.6" rx="8.05" ry="8.4"/>
<ellipse cx="1424.4" cy="1210.0" rx="8.05" ry="8.4"/>
<ellipse cx="1435.0" cy="1207.0" rx="8.05" ry="8.4"/>
<ellipse cx="1446.2" cy="1205.2" rx="8.05" ry="8.4"/>
<ellipse cx="1457.4" cy="1202.1" rx="8.05" ry="8.4"/>
<ellipse cx="1468.0" cy="1198.8" rx="8.05" ry="8.4"/>
<ellipse cx="1468.0" cy="1213.3" rx="8.05" ry="8.4"/>
<ellipse cx="1396.0" cy="1212.0" rx="8.05" ry="8.4"/>
<ellipse cx="1403.0" cy="1215.5" rx="8.05" ry="8.4"/>
<ellipse cx="1409.0" cy="1218.5" rx="8.05" ry="8.4"/>
<ellipse cx="1449.5" cy="1213.0" rx="8.05" ry="8.4"/>
<ellipse cx="1456.0" cy="1210.5" rx="8.05" ry="8.4"/>
<ellipse cx="1462.0" cy="1208.0" rx="8.05" ry="8.4"/>
<ellipse cx="1380.1" cy="1212.3" rx="8.05" ry="8.4"/>
<ellipse cx="1385.0" cy="1214.7" rx="8.05" ry="8.4"/>
<ellipse cx="1389.9" cy="1217.1" rx="8.05" ry="8.4"/>
<ellipse cx="1394.7" cy="1219.5" rx="8.05" ry="8.4"/>
<ellipse cx="1399.6" cy="1221.9" rx="8.05" ry="8.4"/>
<ellipse cx="1404.5" cy="1224.3" rx="8.05" ry="8.4"/>
<ellipse cx="1409.4" cy="1226.7" rx="8.05" ry="8.4"/>
<ellipse cx="1414.2" cy="1229.1" rx="8.05" ry="8.4"/>
<ellipse cx="1419.1" cy="1231.5" rx="8.05" ry="8.4"/>
<ellipse cx="1424.0" cy="1233.9" rx="8.05" ry="8.4"/>
<ellipse cx="1428.7" cy="1231.7" rx="8.05" ry="8.4"/>
<ellipse cx="1433.3" cy="1229.6" rx="8.05" ry="8.4"/>
<ellipse cx="1438.0" cy="1227.4" rx="8.05" ry="8.4"/>
<ellipse cx="1442.7" cy="1225.3" rx="8.05" ry="8.4"/>
<ellipse cx="1447.3" cy="1223.1" rx="8.05" ry="8.4"/>
<ellipse cx="1452.0" cy="1221.0" rx="8.05" ry="8.4"/>
<ellipse cx="1456.7" cy="1218.8" rx="8.05" ry="8.4"/>
<ellipse cx="1461.3" cy="1216.7" rx="8.05" ry="8.4"/>
<ellipse cx="1466.0" cy="1214.5" rx="8.05" ry="8.4"/>
</g>
<g class="tri" id="nv8">
<polygon points="1630.0,1179.0 1646.0,1179.0 1646.0,1180.2 1638.0,1195.6 1630.0,1180.2"/>
<polygon points="1586.0,1186.0 1602.0,1186.0 1602.0,1187.2 1594.0,1202.6 1586.0,1187.2"/>
<polygon points="1674.0,1186.0 1690.0,1186.0 1690.0,1187.2 1682.0,1202.6 1674.0,1187.2"/>
<polygon points="1659.0,1191.1 1675.0,1191.1 1675.0,1192.3 1667.0,1207.7 1659.0,1192.3"/>
<polygon points="1601.0,1196.0 1617.1,1196.0 1617.1,1197.1 1609.0,1212.5 1601.0,1197.1"/>
<polygon points="1644.0,1196.0 1660.1,1196.0 1660.1,1197.1 1652.1,1212.5 1644.0,1197.1"/>
<polygon points="1615.4,1199.0 1631.5,1199.0 1631.5,1200.2 1623.4,1215.6 1615.4,1200.2"/>
<polygon points="1630.0,1202.0 1646.0,1202.0 1646.0,1203.2 1638.0,1218.6 1630.0,1203.2"/>
<polygon points="1599.2,1203.0 1615.2,1203.0 1615.2,1204.1 1607.2,1219.5 1599.2,1204.1"/>
<polygon points="1660.0,1203.0 1676.1,1203.0 1676.1,1204.1 1668.0,1219.5 1660.0,1204.1"/>
<polygon points="1585.0,1214.0 1601.0,1214.0 1601.0,1215.2 1593.0,1230.6 1585.0,1215.2"/>
<polygon points="1674.9,1213.0 1691.0,1213.0 1691.0,1214.1 1682.9,1229.5 1674.9,1214.1"/>
<polygon points="1604.0,1205.9 1620.0,1205.9 1620.0,1207.1 1612.0,1222.5 1604.0,1207.1"/>
<polygon points="1610.0,1207.4 1626.0,1207.4 1626.0,1208.6 1618.0,1224.0 1610.0,1208.6"/>
<polygon points="1616.0,1208.9 1632.0,1208.9 1632.0,1210.1 1624.0,1225.5 1616.0,1210.1"/>
<polygon points="1622.0,1209.9 1638.0,1209.9 1638.0,1211.1 1630.0,1226.5 1622.0,1211.1"/>
<polygon points="1628.0,1210.9 1644.0,1210.9 1644.0,1212.1 1636.0,1227.5 1628.0,1212.1"/>
<polygon points="1634.0,1210.9 1650.0,1210.9 1650.0,1212.1 1642.0,1227.5 1634.0,1212.1"/>
<polygon points="1640.0,1209.9 1656.0,1209.9 1656.0,1211.1 1648.0,1226.5 1640.0,1211.1"/>
<polygon points="1646.0,1208.9 1662.0,1208.9 1662.0,1210.1 1654.0,1225.5 1646.0,1210.1"/>
<polygon points="1652.0,1207.4 1668.0,1207.4 1668.0,1208.6 1660.0,1224.0 1652.0,1208.6"/>
<polygon points="1658.0,1205.9 1674.0,1205.9 1674.0,1207.1 1666.0,1222.5 1658.0,1207.1"/>
<polygon points="1584.7,1213.7 1600.8,1213.7 1600.8,1214.9 1592.7,1230.3 1584.7,1214.9"/>
<polygon points="1587.5,1213.9 1603.5,1213.9 1603.5,1215.1 1595.5,1230.5 1587.5,1215.1"/>
<polygon points="1589.6,1214.3 1605.7,1214.3 1605.7,1215.5 1597.7,1230.9 1589.6,1215.5"/>
<polygon points="1591.8,1214.7 1607.8,1214.7 1607.8,1215.9 1599.8,1231.3 1591.8,1215.9"/>
<polygon points="1593.6,1215.2 1609.7,1215.2 1609.7,1216.4 1601.7,1231.8 1593.6,1216.4"/>
<polygon points="1595.5,1215.7 1611.5,1215.7 1611.5,1216.9 1603.5,1232.3 1595.5,1216.9"/>
<polygon points="1597.4,1216.2 1613.5,1216.2 1613.5,1217.4 1605.5,1232.8 1597.4,1217.4"/>
<polygon points="1599.4,1216.7 1615.5,1216.7 1615.5,1217.9 1607.4,1233.3 1599.4,1217.9"/>
<polygon points="1601.2,1217.7 1617.2,1217.7 1617.2,1218.9 1609.2,1234.3 1601.2,1218.9"/>
<polygon points="1603.0,1218.7 1619.0,1218.7 1619.0,1219.9 1611.0,1235.3 1603.0,1219.9"/>
<polygon points="1604.7,1219.8 1620.8,1219.8 1620.8,1220.9 1612.8,1236.3 1604.7,1220.9"/>
<polygon points="1606.5,1220.8 1622.5,1220.8 1622.5,1222.0 1614.5,1237.4 1606.5,1222.0"/>
<polygon points="1609.0,1220.7 1625.0,1220.7 1625.0,1221.9 1617.0,1237.3 1609.0,1221.9"/>
<polygon points="1611.0,1221.0 1627.0,1221.0 1627.0,1222.1 1619.0,1237.5 1611.0,1222.1"/>
<polygon points="1613.0,1221.2 1629.0,1221.2 1629.0,1222.4 1621.0,1237.8 1613.0,1222.4"/>
<polygon points="1615.5,1221.8 1631.5,1221.8 1631.5,1223.0 1623.5,1238.4 1615.5,1223.0"/>
<polygon points="1618.0,1222.5 1634.0,1222.5 1634.0,1223.7 1626.0,1239.1 1618.0,1223.7"/>
<polygon points="1620.0,1223.5 1636.0,1223.5 1636.0,1224.7 1628.0,1240.1 1620.0,1224.7"/>
<polygon points="1622.0,1224.4 1638.0,1224.4 1638.0,1225.6 1630.0,1241.0 1622.0,1225.6"/>
<polygon points="1624.0,1225.4 1640.0,1225.4 1640.0,1226.6 1632.0,1242.0 1624.0,1226.6"/>
<polygon points="1626.0,1225.6 1642.0,1225.6 1642.0,1226.8 1634.0,1242.2 1626.0,1226.8"/>
<polygon points="1628.0,1225.7 1644.0,1225.7 1644.0,1226.9 1636.0,1242.3 1628.0,1226.9"/>
<polygon points="1630.0,1225.9 1646.0,1225.9 1646.0,1227.1 1638.0,1242.5 1630.0,1227.1"/>
<polygon points="1632.0,1225.7 1648.0,1225.7 1648.0,1226.9 1640.0,1242.3 1632.0,1226.9"/>
<polygon points="1634.0,1225.6 1650.0,1225.6 1650.0,1226.8 1642.0,1242.2 1634.0,1226.8"/>
<polygon points="1636.0,1225.4 1652.0,1225.4 1652.0,1226.6 1644.0,1242.0 1636.0,1226.6"/>
<polygon points="1638.0,1224.4 1654.0,1224.4 1654.0,1225.6 1646.0,1241.0 1638.0,1225.6"/>
<polygon points="1640.0,1223.5 1656.0,1223.5 1656.0,1224.7 1648.0,1240.1 1640.0,1224.7"/>
<polygon points="1642.0,1222.5 1658.0,1222.5 1658.0,1223.7 1650.0,1239.1 1642.0,1223.7"/>
<polygon points="1644.5,1221.8 1660.5,1221.8 1660.5,1223.0 1652.5,1238.4 1644.5,1223.0"/>
<polygon points="1647.0,1221.2 1663.0,1221.2 1663.0,1222.4 1655.0,1237.8 1647.0,1222.4"/>
<polygon points="1649.2,1220.8 1665.2,1220.8 1665.2,1222.0 1657.2,1237.4 1649.2,1222.0"/>
<polygon points="1651.2,1220.8 1667.2,1220.8 1667.2,1222.0 1659.2,1237.4 1651.2,1222.0"/>
<polygon points="1653.5,1219.4 1669.6,1219.4 1669.6,1220.5 1661.6,1236.0 1653.5,1220.5"/>
<polygon points="1656.0,1217.9 1672.0,1217.9 1672.0,1219.1 1664.0,1234.5 1656.0,1219.1"/>
<polygon points="1658.1,1216.8 1674.2,1216.8 1674.2,1218.0 1666.2,1233.4 1658.1,1218.0"/>
<polygon points="1660.2,1215.7 1676.3,1215.7 1676.3,1216.9 1668.3,1232.3 1660.2,1216.9"/>
<polygon points="1662.8,1215.7 1678.8,1215.7 1678.8,1216.9 1670.8,1232.3 1662.8,1216.9"/>
<polygon points="1664.9,1215.2 1681.0,1215.2 1681.0,1216.4 1672.9,1231.8 1664.9,1216.4"/>
<polygon points="1667.0,1214.7 1683.0,1214.7 1683.0,1215.9 1675.0,1231.3 1667.0,1215.9"/>
<polygon points="1669.5,1214.2 1685.5,1214.2 1685.5,1215.4 1677.5,1230.8 1669.5,1215.4"/>
<polygon points="1672.0,1213.7 1688.0,1213.7 1688.0,1214.9 1680.0,1230.3 1672.0,1214.9"/>
<polygon points="1673.7,1213.2 1689.8,1213.2 1689.8,1214.4 1681.8,1229.8 1673.7,1214.4"/>
<polygon points="1675.5,1212.7 1691.5,1212.7 1691.5,1213.9 1683.5,1229.3 1675.5,1213.9"/>
</g>
<g class="dot" id="v8">
<ellipse cx="1787.2" cy="1140.0" rx="8.05" ry="8.4"/>
<ellipse cx="1809.1" cy="1143.8" rx="8.05" ry="8.4"/>
<ellipse cx="1776.0" cy="1182.9" rx="8.05" ry="8.4"/>
<ellipse cx="1798.0" cy="1189.0" rx="8.05" ry="8.4"/>
<ellipse cx="1819.9" cy="1186.4" rx="8.05" ry="8.4"/>
<ellipse cx="1787.0" cy="1204.9" rx="8.05" ry="8.4"/>
<ellipse cx="1816.1" cy="1204.9" rx="8.05" ry="8.4"/>
<ellipse cx="1834.9" cy="1206.0" rx="8.05" ry="8.4"/>
<ellipse cx="1761.1" cy="1210.0" rx="8.05" ry="8.4"/>
<ellipse cx="1776.6" cy="1212.0" rx="8.05" ry="8.4"/>
<ellipse cx="1798.9" cy="1213.0" rx="8.05" ry="8.4"/>
<ellipse cx="1786.5" cy="1214.5" rx="8.05" ry="8.4"/>
<ellipse cx="1806.8" cy="1212.0" rx="8.05" ry="8.4"/>
<ellipse cx="1817.2" cy="1215.6" rx="8.05" ry="8.4"/>
<ellipse cx="1824.3" cy="1218.6" rx="8.05" ry="8.4"/>
<ellipse cx="1768.4" cy="1219.7" rx="8.05" ry="8.4"/>
<ellipse cx="1783.7" cy="1220.7" rx="8.05" ry="8.4"/>
<ellipse cx="1785.7" cy="1222.2" rx="8.05" ry="8.4"/>
<ellipse cx="1810.6" cy="1222.2" rx="8.05" ry="8.4"/>
<ellipse cx="1826.8" cy="1222.2" rx="8.05" ry="8.4"/>
<ellipse cx="1752.0" cy="1223.2" rx="8.05" ry="8.4"/>
<ellipse cx="1758.3" cy="1224.3" rx="8.05" ry="8.4"/>
<ellipse cx="1764.4" cy="1225.7" rx="8.05" ry="8.4"/>
<ellipse cx="1771.0" cy="1228.5" rx="8.05" ry="8.4"/>
<ellipse cx="1777.6" cy="1229.7" rx="8.05" ry="8.4"/>
<ellipse cx="1783.7" cy="1230.8" rx="8.05" ry="8.4"/>
<ellipse cx="1789.8" cy="1233.4" rx="8.05" ry="8.4"/>
<ellipse cx="1796.4" cy="1237.0" rx="8.05" ry="8.4"/>
<ellipse cx="1797.9" cy="1233.0" rx="8.05" ry="8.4"/>
<ellipse cx="1802.9" cy="1232.9" rx="8.05" ry="8.4"/>
<ellipse cx="1810.1" cy="1229.9" rx="8.05" ry="8.4"/>
<ellipse cx="1816.1" cy="1229.3" rx="8.05" ry="8.4"/>
<ellipse cx="1821.2" cy="1228.9" rx="8.05" ry="8.4"/>
<ellipse cx="1829.3" cy="1225.0" rx="8.05" ry="8.4"/>
<ellipse cx="1836.9" cy="1224.7" rx="8.05" ry="8.4"/>
<ellipse cx="1844.0" cy="1222.4" rx="8.05" ry="8.4"/>
</g>
</svg></body></html>
